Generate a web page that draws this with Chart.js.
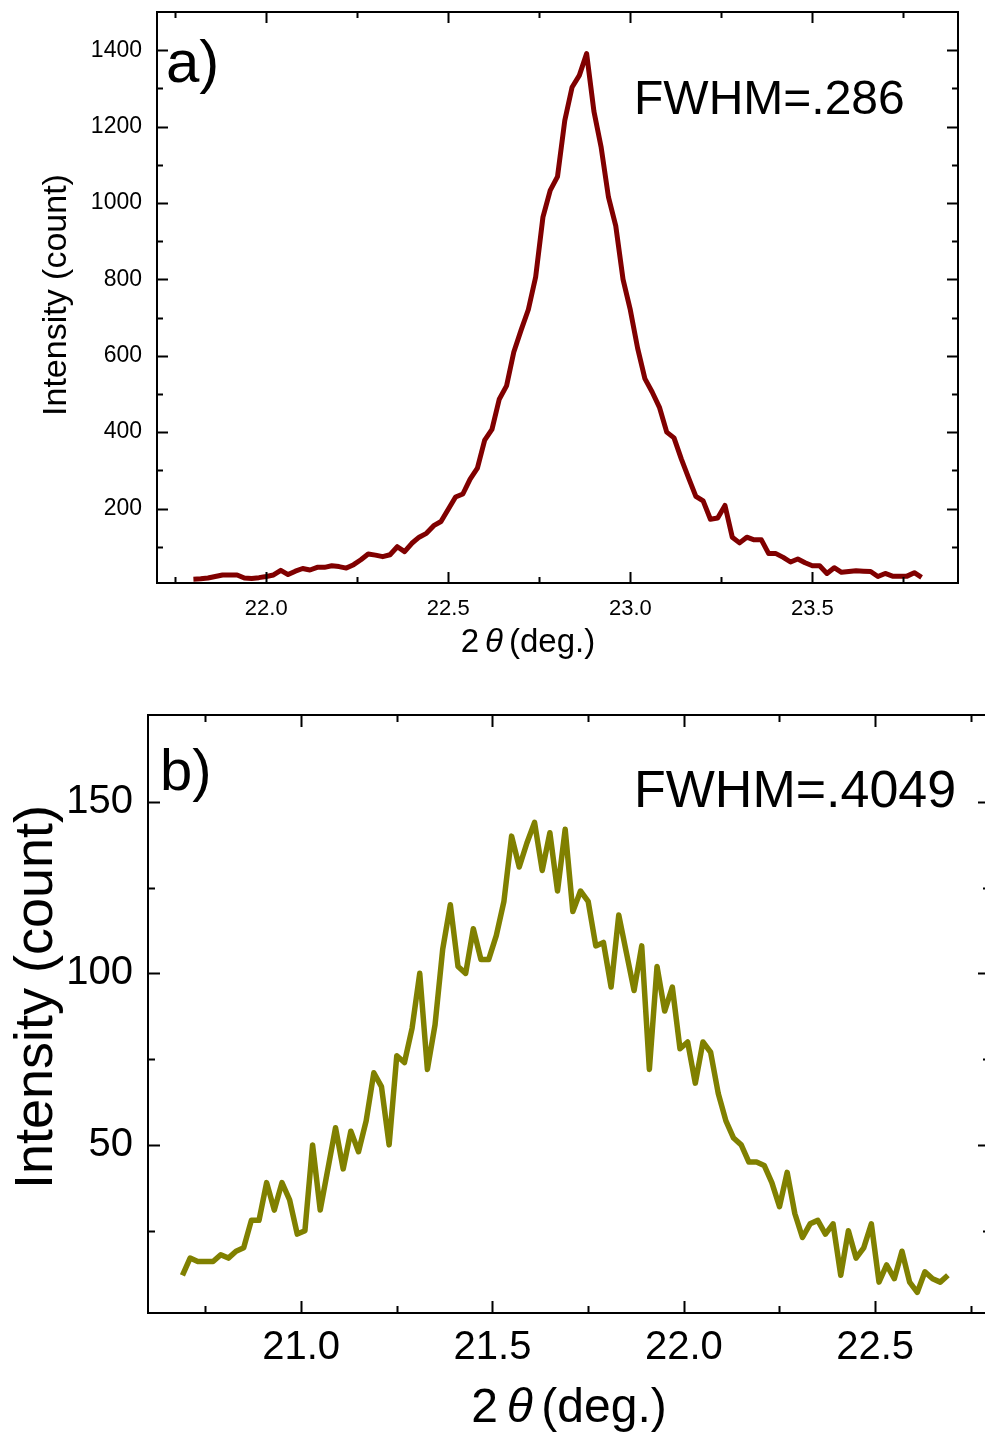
<!DOCTYPE html>
<html>
<head>
<meta charset="utf-8">
<script src="https://cdn.jsdelivr.net/npm/chart.js@4.4.1/dist/chart.umd.min.js"></script>
<style>
  html, body { margin: 0; padding: 0; background: #fff; overflow: hidden; }
  #wrapA { position: absolute; left: 0; top: 0; width: 985px; height: 680px; }
  #wrapB { position: absolute; left: 0; top: 680px; width: 997px; height: 757px; }
</style>
</head>
<body>
<div id="wrapA"><canvas id="chartA"></canvas></div>
<div id="wrapB"><canvas id="chartB"></canvas></div>
<script>
// panel a) - 2theta (deg.) and counts
const thetaA = [
  21.80, 21.82, 21.84, 21.86, 21.88, 21.90, 21.92, 21.94, 21.96, 21.98,
  22.00, 22.02, 22.04, 22.06, 22.08, 22.10, 22.12, 22.14, 22.16, 22.18,
  22.20, 22.22, 22.24, 22.26, 22.28, 22.30, 22.32, 22.34, 22.36, 22.38,
  22.40, 22.42, 22.44, 22.46, 22.48, 22.50, 22.52, 22.54, 22.56, 22.58,
  22.60, 22.62, 22.64, 22.66, 22.68, 22.70, 22.72, 22.74, 22.76, 22.78,
  22.80, 22.82, 22.84, 22.86, 22.88, 22.90, 22.92, 22.94, 22.96, 22.98,
  23.00, 23.02, 23.04, 23.06, 23.08, 23.10, 23.12, 23.14, 23.16, 23.18,
  23.20, 23.22, 23.24, 23.26, 23.28, 23.30, 23.32, 23.34, 23.36, 23.38,
  23.40, 23.42, 23.44, 23.46, 23.48, 23.50, 23.52, 23.54, 23.56, 23.58,
  23.60, 23.62, 23.64, 23.66, 23.68, 23.70, 23.72, 23.74, 23.76, 23.78,
  23.80
];
const countsA = [
  15, 16, 18, 22, 26, 26, 26, 18, 17, 19,
  22, 26, 38, 27, 36, 43, 39, 46, 46, 50,
  48, 44, 53, 66, 81, 78, 74, 79, 100, 87,
  109, 125, 135, 155, 166, 198, 230, 238, 277, 306,
  379, 407, 486, 521, 610, 667, 721, 806, 963, 1033,
  1069, 1216, 1303, 1334, 1391, 1240, 1145, 1015, 940, 800,
  720, 620, 540, 505, 465, 400, 385, 330, 280, 232,
  220, 172, 175, 208, 125, 110, 125, 118, 118, 82,
  82, 72, 60, 68, 58, 50, 50, 30, 45, 33,
  35, 37, 36, 35, 22, 30, 23, 23, 23, 32,
  20
];
const xTicksA = [22.0, 22.5, 23.0, 23.5];
const xMinorA = [21.75, 22.25, 22.75, 23.25, 23.75];
const yTicksA = [200, 400, 600, 800, 1000, 1200, 1400];
const yMinorA = [100, 300, 500, 700, 900, 1100, 1300];

// panel b)
const thetaB = [
  20.69, 20.71, 20.73, 20.75, 20.77, 20.79, 20.81, 20.83, 20.85, 20.87,
  20.89, 20.91, 20.93, 20.95, 20.97, 20.99, 21.01, 21.03, 21.05, 21.07,
  21.09, 21.11, 21.13, 21.15, 21.17, 21.19, 21.21, 21.23, 21.25, 21.27,
  21.29, 21.31, 21.33, 21.35, 21.37, 21.39, 21.41, 21.43, 21.45, 21.47,
  21.49, 21.51, 21.53, 21.55, 21.57, 21.59, 21.61, 21.63, 21.65, 21.67,
  21.69, 21.71, 21.73, 21.75, 21.77, 21.79, 21.81, 21.83, 21.85, 21.87,
  21.89, 21.91, 21.93, 21.95, 21.97, 21.99, 22.01, 22.03, 22.05, 22.07,
  22.09, 22.11, 22.13, 22.15, 22.17, 22.19, 22.21, 22.23, 22.25, 22.27,
  22.29, 22.31, 22.33, 22.35, 22.37, 22.39, 22.41, 22.43, 22.45, 22.47,
  22.49, 22.51, 22.53, 22.55, 22.57, 22.59, 22.61, 22.63, 22.65, 22.67,
  22.69
];
const countsB = [
  12, 17, 16, 16, 16, 18, 17, 19, 20, 28,
  28, 39, 31, 39, 34, 24, 25, 50, 31, 43,
  55, 43, 54, 48, 57, 71, 67, 50, 76, 74,
  84, 100, 72, 85, 107, 120, 102, 100, 113, 104,
  104, 111, 121, 140, 131, 138, 144, 130, 141, 124,
  142, 118, 124, 121, 108, 109, 96, 117, 106, 95,
  108, 72, 102, 89, 96, 78, 80, 68, 80, 77,
  65, 57, 52, 50, 45, 45, 44, 39, 32, 42,
  30, 23, 27, 28, 24, 27, 12, 25, 17, 20,
  27, 10, 15, 11, 19, 10, 7, 13, 11, 10,
  12
];
const xTicksB = [21.0, 21.5, 22.0, 22.5];
const xMinorB = [20.75, 21.25, 21.75, 22.25, 22.75];
const yTicksB = [50, 100, 150];
const yMinorB = [25, 75, 125];

const FONT = "'Liberation Sans', Arial, Helvetica, sans-serif";

// box around the plot, inward ticks, panel texts
const framePlugin = {
  id: 'frame',
  afterDraw(chart, args, o) {
    const { ctx, chartArea: a } = chart;
    const xs = chart.scales.x, ys = chart.scales.y;
    ctx.save();
    ctx.strokeStyle = '#000';
    ctx.lineWidth = o.lineWidth;
    ctx.lineCap = 'butt';
    ctx.beginPath();
    const xMarks = (vals, len) => vals.forEach(v => {
      const px = Math.round(xs.getPixelForValue(v)) + 0.5;
      ctx.moveTo(px, a.bottom); ctx.lineTo(px, a.bottom - len);
      ctx.moveTo(px, a.top); ctx.lineTo(px, a.top + len);
    });
    const yMarks = (vals, len) => vals.forEach(v => {
      const py = Math.round(ys.getPixelForValue(v)) + 0.5;
      ctx.moveTo(a.left, py); ctx.lineTo(a.left + len, py);
      ctx.moveTo(a.right, py); ctx.lineTo(a.right - len, py);
    });
    xMarks(o.xMajor, o.majorLen);
    xMarks(o.xMinor, o.minorLen);
    yMarks(o.yMajor, o.majorLen);
    yMarks(o.yMinor, o.minorLen);
    ctx.stroke();
    ctx.strokeRect(a.left, a.top, a.right - a.left, a.bottom - a.top);

    ctx.fillStyle = '#000';
    ctx.textBaseline = 'alphabetic';
    o.labels.forEach(t => {
      ctx.font = t.size + 'px ' + FONT;
      ctx.textAlign = 'left';
      ctx.fillText(t.text, t.x, t.y);
    });

    // y title, rotated
    const yt = o.yTitle;
    ctx.save();
    ctx.translate(yt.x, yt.y);
    ctx.rotate(-Math.PI / 2);
    ctx.font = yt.size + 'px ' + FONT;
    ctx.textAlign = 'center';
    ctx.fillText('Intensity (count)', 0, 0);
    ctx.restore();

    // x title: 2θ (deg.) with italic theta
    const xt = o.xTitle;
    const normal = xt.size + 'px ' + FONT;
    const italic = 'italic ' + xt.size + 'px ' + FONT;
    ctx.font = normal;
    const w1 = ctx.measureText('2').width;
    const w3 = ctx.measureText('(deg.)').width;
    ctx.font = italic;
    const w2 = ctx.measureText('θ').width;
    const gap = xt.size * 0.18;
    let x = xt.cx - (w1 + gap + w2 + gap + w3) / 2;
    ctx.textAlign = 'left';
    ctx.font = normal; ctx.fillText('2', x, xt.y); x += w1 + gap;
    ctx.font = italic; ctx.fillText('θ', x, xt.y); x += w2 + gap;
    ctx.font = normal; ctx.fillText('(deg.)', x, xt.y);
    ctx.restore();
  }
};

function makeChart(id, p) {
  return new Chart(document.getElementById(id).getContext('2d'), {
    type: 'line',
    data: {
      datasets: [{
        data: p.theta.map((t, i) => ({ x: t, y: p.counts[i] })),
        borderColor: p.color,
        borderWidth: p.lineWidth,
        borderJoinStyle: 'round',
        pointRadius: 0,
        tension: 0,
        fill: false
      }]
    },
    options: {
      responsive: true,
      maintainAspectRatio: false,
      devicePixelRatio: 1,
      animation: false,
      events: [],
      layout: { padding: p.padding },
      plugins: {
        legend: { display: false },
        tooltip: { enabled: false },
        frame: p.frame
      },
      scales: {
        x: {
          type: 'linear',
          min: p.xMin,
          max: p.xMax,
          grid: { display: false, drawTicks: false },
          border: { display: false },
          ticks: {
            color: '#000',
            font: { family: FONT, size: p.xFont },
            padding: p.xPad,
            maxRotation: 0,
            autoSkip: false,
            callback: v => v.toFixed(1)
          },
          afterBuildTicks: s => { s.ticks = p.xTicks.map(v => ({ value: v })); },
          afterFit: s => { s.height = p.xHeight; s.paddingLeft = 0; s.paddingRight = 0; }
        },
        y: {
          type: 'linear',
          min: p.yMin,
          max: p.yMax,
          grid: { display: false, drawTicks: false },
          border: { display: false },
          ticks: {
            color: '#000',
            font: { family: FONT, size: p.yFont },
            padding: p.yPad,
            autoSkip: false,
            callback: v => String(v)
          },
          afterBuildTicks: s => { s.ticks = p.yTicks.map(v => ({ value: v })); },
          afterFit: s => { s.width = p.yWidth; s.paddingTop = 0; s.paddingBottom = 0; }
        }
      }
    },
    plugins: [framePlugin]
  });
}

const chartA = makeChart('chartA', {
  theta: thetaA, counts: countsA, color: '#800000', lineWidth: 5,
  xMin: 21.7, xMax: 23.9, yMin: 5, yMax: 1500,
  xTicks: xTicksA, yTicks: yTicksA,
  xFont: 22, yFont: 23, xPad: 13, yPad: 15,
  xHeight: 97, yWidth: 157,
  padding: { top: 12, right: 27, left: 0, bottom: 0 },
  frame: {
    lineWidth: 2, majorLen: 11, minorLen: 6,
    xMajor: xTicksA, xMinor: xMinorA, yMajor: yTicksA, yMinor: yMinorA,
    labels: [
      { text: 'a)', x: 166, y: 82, size: 60 },
      { text: 'FWHM=.286', x: 634, y: 114, size: 48 }
    ],
    yTitle: { x: 66, y: 295, size: 34 },
    xTitle: { cx: 528, y: 652, size: 33 }
  }
});

const chartB = makeChart('chartB', {
  theta: thetaB, counts: countsB, color: '#808000', lineWidth: 5.5,
  xMin: 20.6, xMax: 22.8, yMin: 1, yMax: 175.3,
  xTicks: xTicksB, yTicks: yTicksB,
  xFont: 40, yFont: 40, xPad: 11, yPad: 15,
  xHeight: 124, yWidth: 148,
  padding: { top: 35, right: 7, left: 0, bottom: 0 },
  frame: {
    lineWidth: 2, majorLen: 12, minorLen: 7,
    xMajor: xTicksB, xMinor: xMinorB, yMajor: yTicksB, yMinor: yMinorB,
    labels: [
      { text: 'b)', x: 160, y: 110, size: 58 },
      { text: 'FWHM=.4049', x: 634, y: 127, size: 52 }
    ],
    yTitle: { x: 52, y: 317, size: 54 },
    xTitle: { cx: 569, y: 742, size: 48 }
  }
});
</script>
</body>
</html>
